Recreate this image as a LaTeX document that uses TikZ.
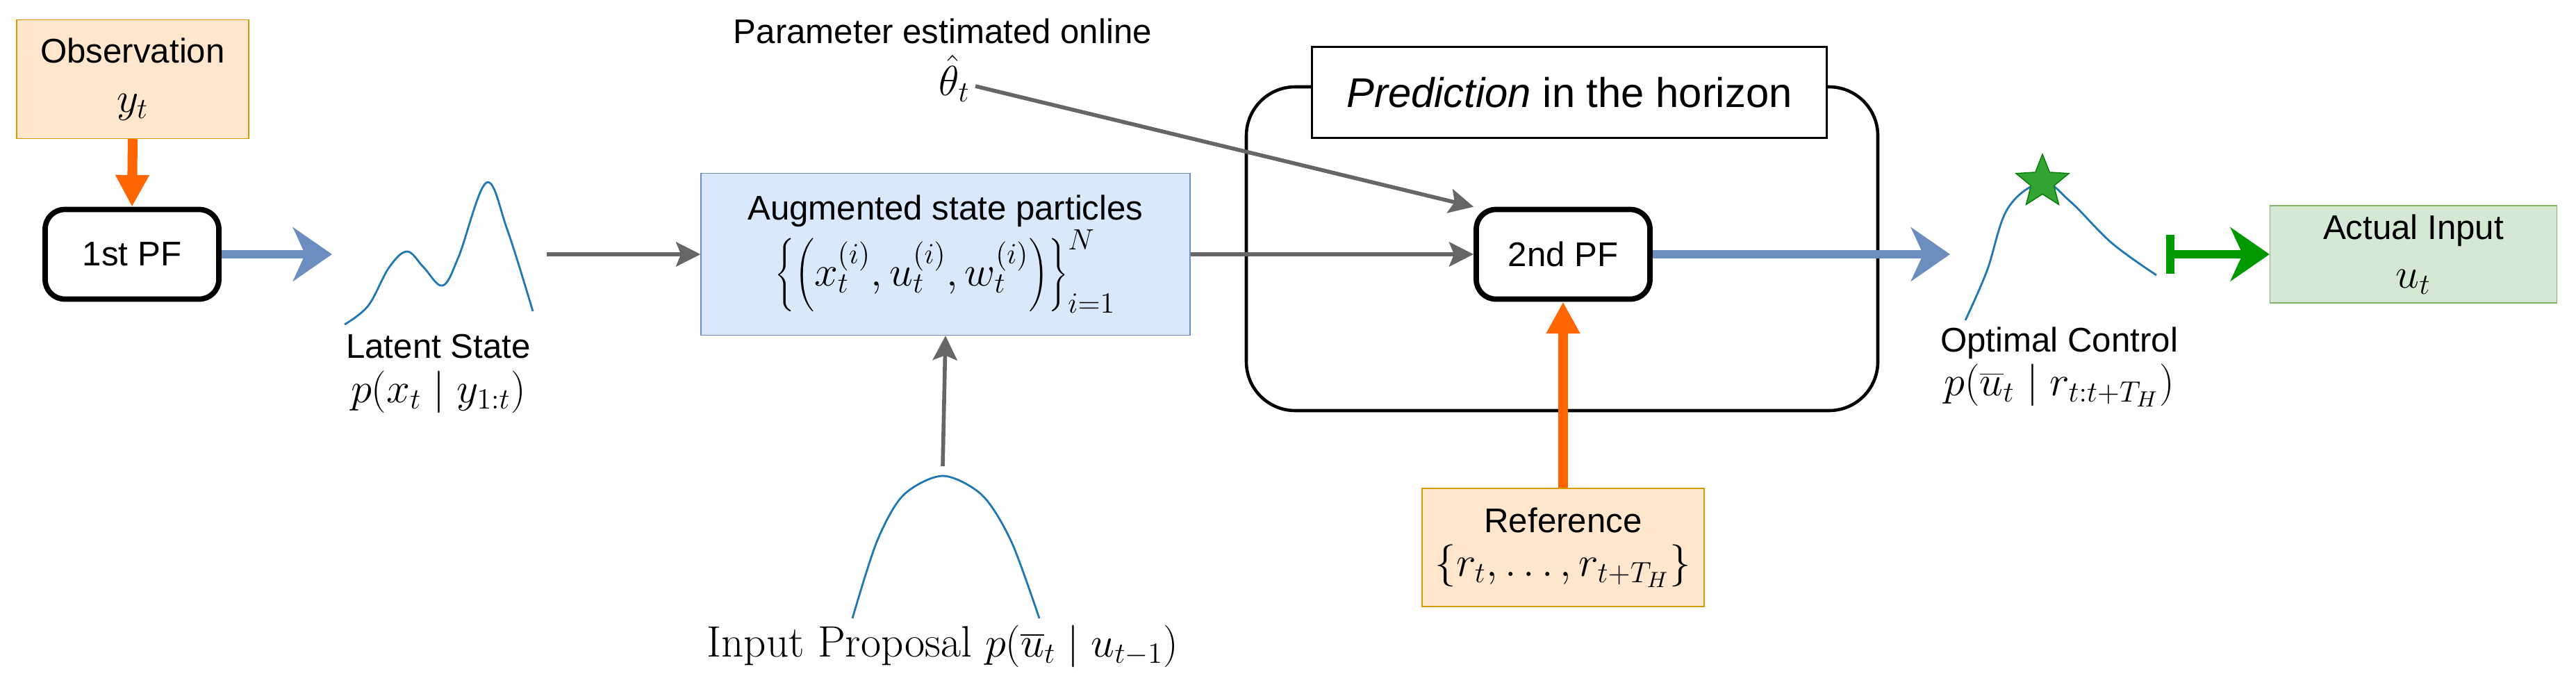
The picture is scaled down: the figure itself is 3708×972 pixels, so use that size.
\documentclass[tikz,border=0pt]{standalone}
\usepackage{fontspec}
\setmainfont{Liberation Sans}
\newfontfamily\lmr{Latin Modern Roman}
\usetikzlibrary{arrows.meta,shapes.geometric}
\definecolor{obsfill}{HTML}{FFE6CC}\definecolor{obsdraw}{HTML}{D79B00}
\definecolor{augfill}{HTML}{DAE8FC}\definecolor{augdraw}{HTML}{6C8EBF}
\definecolor{grnfill}{HTML}{D5E8D4}\definecolor{grndraw}{HTML}{82B366}
\definecolor{curve}{HTML}{1F77B4}\definecolor{gr}{HTML}{666666}
\definecolor{org}{HTML}{FF6600}\definecolor{grn}{HTML}{009900}
\newcommand{\bm}{\fontsize{18}{20}\selectfont}
\begin{document}
\begin{tikzpicture}[x=0.01cm,y=-0.01cm,
  every node/.style={font=\fontsize{14}{18}\selectfont, align=center},
  pf/.style={draw=black, line width=2.2pt, rounded corners=8pt, fill=white},
  bluearr/.style={draw=augdraw, line width=3.5pt, -{Stealth[length=16pt,width=22pt,inset=5pt]}},
  grayarr/.style={draw=gr, line width=1.6pt, -{Stealth[length=10pt,width=10pt,inset=2pt]}},
  orgarr/.style={draw=org, line width=4pt, -{Triangle[length=13pt,width=13pt]}},
  crv/.style={draw=curve, line width=0.8pt}]
\useasboundingbox (0,0) rectangle (3708,972);
% prediction frame
\draw[line width=1.3pt, rounded corners=20pt] (1794,125) rectangle (2703,591);
\node[draw, fill=white, line width=0.9pt, minimum width=741*0.01cm, minimum height=131*0.01cm, font=\fontsize{17}{20}\selectfont] (pred) at (2259,133) {\textit{Prediction} in the horizon};
% nodes
\node[draw=obsdraw, fill=obsfill, minimum width=334*0.01cm, minimum height=171*0.01cm] (obs) at (191,114) {Observation\\[2pt] {\bm $y_t$}};
\node[pf, minimum width=250*0.01cm, minimum height=129*0.01cm] (pf1) at (190,366) {1st PF};
\node[draw=augdraw, fill=augfill, minimum width=704*0.01cm, minimum height=233*0.01cm] (aug) at (1361,366) {Augmented state particles\\ {\bm $\left\{\left(x_t^{(i)},u_t^{(i)},w_t^{(i)}\right)\right\}_{i=1}^{N}$}};
\node[pf, minimum width=250*0.01cm, minimum height=129*0.01cm] (pf2) at (2250,366) {2nd PF};
\node[draw=grndraw, fill=grnfill, minimum width=413*0.01cm, minimum height=140*0.01cm] (act) at (3474,366) {Actual Input\\[2pt] {\bm $u_t$}};
\node[draw=obsdraw, fill=obsfill, minimum width=406*0.01cm, minimum height=170*0.01cm] (ref) at (2250,788) {Reference\\ {\bm $\{r_t,\ldots,r_{t+T_H}\}$}};
\node (lat) at (631,538) {Latent State\\ {\bm $p(x_t \mid y_{1:t})$}};
\node (par) at (1357,45) {Parameter estimated online};
\node[font=\bm] (th0) at (1374,113) {$\hat\theta_t$};
\node[font=\fontsize{18}{20}\selectfont\lmr] (inp) at (1357,930) {Input Proposal $p(\overline{u}_t \mid u_{t-1})$};
\node (opt) at (2964,528) {Optimal Control\\ {\bm $p(\overline{u}_t \mid r_{t:t+T_H})$}};
% curves
\draw[crv] plot[smooth, tension=0.6] coordinates {(496,467)(530,440)(560,385)(586,362)(610,385)(637,411)(660,370)(700,263)(730,330)(767,448)};
\draw[crv] plot[smooth, tension=0.5] coordinates {(1227,890)(1262,780)(1300,713)(1357,685)(1414,713)(1456,780)(1496,890)};
\draw[crv] plot[smooth, tension=0.6] coordinates {(2829,461)(2860,390)(2890,300)(2940,263)(2980,290)(3040,350)(3104,396)};
\node[star, star points=5, star point ratio=2.3, fill=green!55!black!80, draw=green!50!black, inner sep=3.5pt] (st) at (2940,262) {};
% coordinates
\coordinate (b1) at (478,366);
\coordinate (l1) at (787,366);
\coordinate (i1) at (1357,671);
\coordinate (th) at (1404,124);
\coordinate (b2) at (2807,366);
\coordinate (g1) at (3118,366);
% connectors
\draw[orgarr] (obs.south) -- (pf1.north);
\draw[bluearr] (pf1.east) -- (b1);
\draw[grayarr] (l1) -- (aug.west);
\draw[grayarr] (i1) -- (aug.south);
\draw[grayarr] (aug.east) -- (pf2.west);
\draw[grayarr] (th) -- (pf2.north west);
\draw[bluearr] (pf2.east) -- (b2);
\draw[orgarr] (ref.north) -- (pf2.south);
\draw[draw=grn, line width=3.5pt, {Bar[width=16pt]}-{Stealth[length=16pt,width=22pt,inset=5pt]}] (g1) -- (act.west);
\end{tikzpicture}
\end{document}
